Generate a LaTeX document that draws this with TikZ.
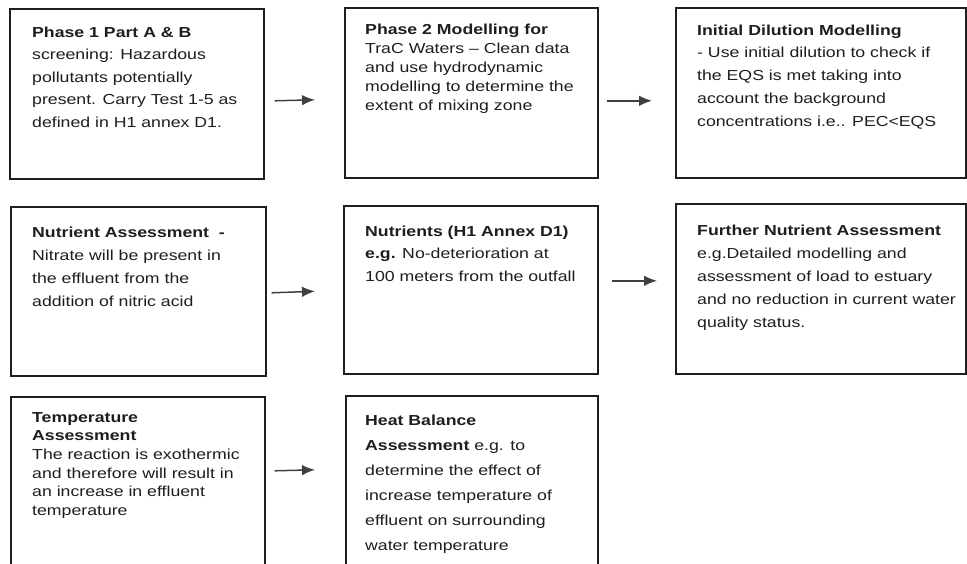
\documentclass[tikz,border=0pt]{standalone}
\usepackage{fontspec}
\setmainfont{Liberation Sans}[FakeStretch=1.22]
\usetikzlibrary{arrows.meta}
\definecolor{ink}{HTML}{1E1E1E}
\tikzset{
  box/.style={draw=ink, line width=1.6pt, inner sep=0pt, anchor=north west},
  txt/.style={anchor=base west, align=left, inner sep=0pt, text=ink,
              font=\fontsize{14.5pt}{#1}\selectfont},
  arr/.style={-{Latex[length=13pt,width=10.5pt]}, line width=1.5pt, draw=ink!85}
}
\begin{document}
\begin{tikzpicture}[x=1pt,y=-1pt]
\useasboundingbox (0,0) rectangle (967,563);
\clip (0,0) rectangle (967,563);
\fill[white] (0,0) rectangle (967,563);
% boxes
\node[box, minimum width=254pt, minimum height=170pt] (b11) at (9,8) {};
\node[box, minimum width=253pt, minimum height=170pt] (b12) at (344,7) {};
\node[box, minimum width=290pt, minimum height=170pt] (b13) at (675,7) {};
\node[box, minimum width=255pt, minimum height=169pt] (b21) at (10,206) {};
\node[box, minimum width=254pt, minimum height=168pt] (b22) at (343,205) {};
\node[box, minimum width=290pt, minimum height=170pt] (b23) at (675,203) {};
\node[box, minimum width=254pt, minimum height=175pt] (b31) at (10,396) {};
\node[box, minimum width=252pt, minimum height=175pt] (b32) at (345,395) {};
% texts (anchored at the baseline of their last line)
\node[txt=22.5pt] (t11) at (32,127) {\textbf{Phase 1 Part A \& B}\\ screening: Hazardous\\ pollutants potentially\\ present. Carry Test 1-5 as\\ defined in H1 annex D1.};
\node[txt=18.8pt] (t12) at (365,110) {\textbf{Phase 2 Modelling for}\\ TraC Waters – Clean data\\ and use hydrodynamic\\ modelling to determine the\\ extent of mixing zone};
\node[txt=22.7pt] (t13) at (697,126) {\textbf{Initial Dilution Modelling}\\ - Use initial dilution to check if\\ the EQS is met taking into\\ account the background\\ concentrations i.e.. PEC<EQS};
\node[txt=23pt] (t21) at (32,306) {\textbf{Nutrient Assessment\ \ -}\\ Nitrate will be present in\\ the effluent from the\\ addition of nitric acid};
\node[txt=22.5pt] (t22) at (365,281) {\textbf{Nutrients (H1 Annex D1)}\\ \textbf{e.g.} No-deterioration at\\ 100 meters from the outfall};
\node[txt=23pt] (t23) at (697,327) {\textbf{Further Nutrient Assessment}\\ e.g.Detailed modelling and\\ assessment of load to estuary\\ and no reduction in current water\\ quality status.};
\node[txt=18.7pt] (t31) at (32,515.5) {\textbf{Temperature}\\ \textbf{Assessment}\\ The reaction is exothermic\\ and therefore will result in\\ an increase in effluent\\ temperature};
\node[txt=25pt] (t32) at (365,550) {\textbf{Heat Balance}\\ \textbf{Assessment} e.g. to\\ determine the effect of\\ increase temperature of\\ effluent on surrounding\\ water temperature};
% arrows
\draw[arr] ([xshift=10pt,yshift=-7pt]b11.east) -- ([xshift=-29pt,yshift=-7pt]b12.west);
\draw[arr] ([xshift=8pt,yshift=-8pt]b12.east) -- ([xshift=-23pt,yshift=-8pt]b13.west);
\draw[arr] ([xshift=5pt,yshift=-1.5pt]b21.east) -- ([xshift=-28pt,yshift=-1.5pt]b22.west);
\draw[arr] ([xshift=13pt,yshift=9pt]b22.east) -- ([xshift=-18pt,yshift=8pt]b23.west);
\draw[arr] ([xshift=9pt,yshift=13.5pt]b31.east) -- ([xshift=-30pt,yshift=13.5pt]b32.west);
\end{tikzpicture}
\end{document}
